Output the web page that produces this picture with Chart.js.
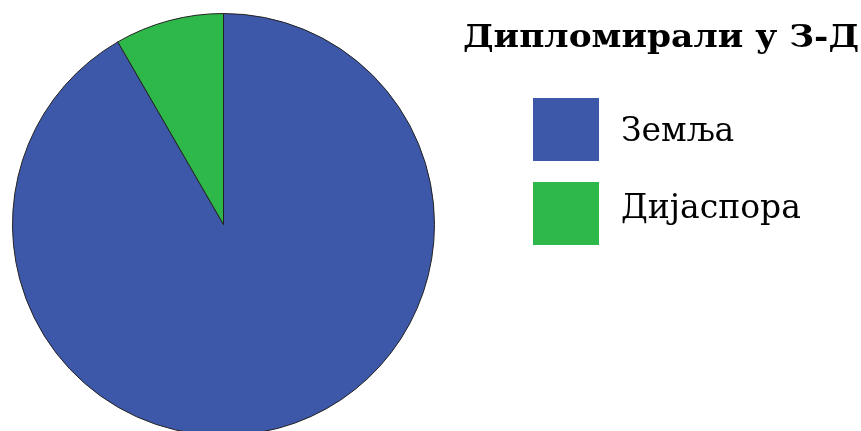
<!DOCTYPE html>
<html>
<head>
<meta charset="utf-8">
<script src="https://cdn.jsdelivr.net/npm/chart.js@4/dist/chart.umd.min.js"></script>
<style>
  html, body { margin: 0; padding: 0; background: #fff; overflow: hidden; }
  #wrap { width: 861px; height: 440px; position: relative; }
</style>
</head>
<body>
<div id="wrap"><canvas id="pie"></canvas></div>
<script>
const labels = ['Земља', 'Дијаспора'];
const shares = [91.65, 8.35];
const colors = ['#3d58a9', '#2eb84a'];
const title = 'Дипломирали у З-Д';

// legend on the right side, drawn from the chart's own labels and colours
const sideLegend = {
    id: 'sideLegend',
    afterDraw(chart) {
        const ctx = chart.ctx;
        ctx.save();
        ctx.fillStyle = '#000';
        ctx.textBaseline = 'alphabetic';
        ctx.textAlign = 'left';
        ctx.font = 'bold 32px "DejaVu Serif"';
        // stretch the heading a little so it spans the legend column
        const w = ctx.measureText(title).width;
        ctx.save();
        ctx.translate(463, 47);
        ctx.scale(396 / w, 1);
        ctx.fillText(title, 0, 0);
        ctx.restore();

        ctx.font = '33px "DejaVu Serif"';
        const ds = chart.data.datasets[0];
        const boxTop = [98, 182];
        const baseY = [141, 218];
        chart.data.labels.forEach((lab, i) => {
            ctx.fillStyle = ds.backgroundColor[i];
            ctx.fillRect(533, boxTop[i], 66, 63);
            ctx.fillStyle = '#000';
            ctx.fillText(lab, 621, baseY[i]);
        });
        ctx.restore();
    }
};

new Chart(document.getElementById('pie').getContext('2d'), {
    type: 'pie',
    data: {
        labels: labels,
        datasets: [{
            data: shares,
            backgroundColor: colors,
            borderColor: '#222',
            borderWidth: 1
        }]
    },
    options: {
        responsive: true,
        maintainAspectRatio: false,
        animation: false,
        layout: {
            padding: { left: 12, right: 426, top: 13, bottom: 4 }
        },
        plugins: {
            legend: { display: false },
            tooltip: { enabled: false }
        }
    },
    plugins: [sideLegend]
});
</script>
</body>
</html>
